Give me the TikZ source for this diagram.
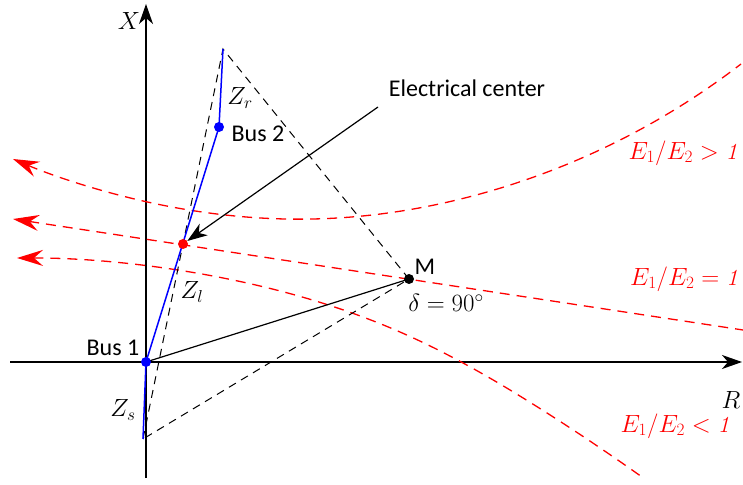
\documentclass[tikz,border=0pt]{standalone}
\usepackage{fontspec}
\newfontfamily\busfont{Carlito}
\usetikzlibrary{hobby,arrows.meta}
\tikzset{
    axis line/.style={
        black,
        line width=1.2pt,
        -{Stealth[length=20pt,width=14pt,inset=6pt]}
    },
    bus line/.style={
        blue,
        line width=1.5pt
    },
    tri dash/.style={
        black,
        line width=1pt,
        dash pattern=on 8pt off 6pt
    },
    ratio curve/.style={
        red,
        line width=1.3pt,
        dash pattern=on 10pt off 7pt,
        {Stealth[length=26pt,width=16pt,inset=9pt]}-
    },
    bus dot/.style={
        circle,
        fill=#1,
        inner sep=0pt,
        minimum size=10pt
    },
    bus text/.style={
        font=\busfont\fontsize{24}{28}\selectfont
    },
    math text/.style={
        font=\fontsize{24}{27}\selectfont
    },
    ratio text/.style={
        red,
        font=\fontsize{23}{26}\selectfont
    }
}
\begin{document}
\begin{tikzpicture}[x=1pt,y=1pt,use Hobby shortcut]
    \useasboundingbox (0,0) rectangle (743,484);
    \coordinate (Xbot) at (146,6);
    \coordinate (Xtop) at (146,480);
    \coordinate (Rleft) at (10,122);
    \coordinate (Rright) at (742,122);
    \coordinate (B1) at (146,122);
    \coordinate (B2) at (219,357);
    \coordinate (EC) at (183,240);
    \coordinate (T) at (223,435);
    \coordinate (S) at (143,45);
    \coordinate (M) at (409,205);
    \coordinate (ECfrom) at (378,377);
    \coordinate (C1) at (13,325);
    \coordinate (C2) at (143,283);
    \coordinate (C3) at (313,265);
    \coordinate (C4) at (480,290);
    \coordinate (C5) at (741,420);
    \coordinate (L1) at (13,265);
    \coordinate (L2) at (743,154);
    \coordinate (D1) at (17,226);
    \coordinate (D2) at (233,204);
    \coordinate (D3) at (400,152);
    \coordinate (D4) at (547,71);
    \coordinate (D5) at (642,7);

    \draw[axis line] (Rleft) -- (Rright);
    \draw[axis line] (Xbot) -- (Xtop);
    \node[math text] (Xlab) at (129,463) {$X$};
    \node[math text] (Rlab) at (731,84) {$R$};

    \draw[ratio curve] (C1)..(C2)..(C3)..(C4)..(C5);
    \draw[ratio curve] (L1) -- (L2);
    \draw[ratio curve] (D1)..(D2)..(D3)..(D4)..(D5);

    \draw[tri dash] (S) -- (T) -- (M) -- cycle;
    \draw[black, line width=1.2pt] (B1) -- (M);
    \draw[bus line] (S) -- (B1) -- (B2) -- (T);

    \node[bus dot=blue] (bus1) at (B1) {};
    \node[bus dot=blue] (bus2) at (B2) {};
    \node[bus dot=red] (ec) at (EC) {};
    \node[bus dot=black] (m) at (M) {};

    \node[bus text] (bus1lab) at (113,136) {Bus 1};
    \node[bus text] (bus2lab) at (258,350) {Bus 2};
    \node[bus text] (mlab) at (425,217) {M};
    \node[bus text] (eclab) at (467,396) {Electrical center};
    \draw[black, line width=1.2pt, -{Stealth[length=20pt,width=14pt,inset=6pt]}] (ECfrom) -- (ec);

    \node[math text] (zr) at (240,386) {$Z_r$};
    \node[math text] (zl) at (192,192) {$Z_l$};
    \node[math text] (zs) at (123,74) {$Z_s$};
    \node[math text] (delta) at (446,181) {$\delta=90^\circ$};

    \node[ratio text] (gt) at (683,331) {$E_1/E_2>\mathit{1}$};
    \node[ratio text] (eq) at (684,205) {$E_1/E_2=\mathit{1}$};
    \node[ratio text] (lt) at (675,58) {$E_1/E_2<\mathit{1}$};
\end{tikzpicture}
\end{document}
